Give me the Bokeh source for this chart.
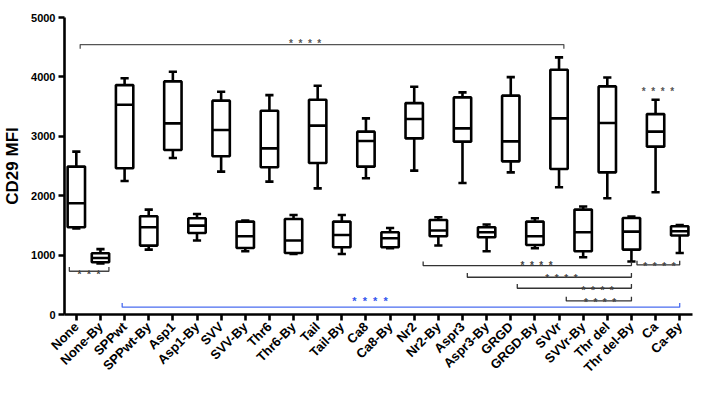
import math
from bokeh.plotting import figure
from bokeh.models import Range1d, FixedTicker
from bokeh.core.properties import value
from bokeh.embed import file_html
from bokeh.resources import INLINE

categories = ["None", "None-By", "SPPwt", "SPPwt-By", "Asp1", "Asp1-By", "SVV", "SVV-By",
              "Thr6", "Thr6-By", "Tail", "Tail-By", "Ca8", "Ca8-By", "Nr2", "Nr2-By",
              "Aspr3", "Aspr3-By", "GRGD", "GRGD-By", "SVVr", "SVVr-By", "Thr del",
              "Thr del-By", "Ca", "Ca-By"]
whisker_low = [1450, 860, 2247, 1093, 2634, 1245, 2405, 1065, 2237, 1019, 2124, 1019, 2293,
               1115, 2422, 1161, 2214, 1065, 2393, 1115, 2141, 964, 1956, 891, 2057, 1036]
q1 = [1468, 880, 2461, 1160, 2769, 1372, 2663, 1120, 2478, 1036, 2550, 1132, 2489,
      1132, 2965, 1317, 2910, 1300, 2578, 1171, 2449, 1065, 2393, 1093, 2826, 1329]
median = [1872, 950, 3532, 1468, 3218, 1497, 3105, 1317, 2797, 1245, 3179, 1339, 2920,
          1283, 3290, 1413, 3134, 1384, 2915, 1317, 3302, 1384, 3223, 1396, 3078, 1401]
q3 = [2490, 1030, 3862, 1653, 3924, 1620, 3600, 1564, 3431, 1608, 3616, 1564, 3078,
      1384, 3559, 1591, 3655, 1468, 3684, 1564, 4121, 1766, 3840, 1625, 3374, 1485]
whisker_high = [2742, 1100, 3977, 1766, 4087, 1692, 3751, 1581, 3694, 1675, 3852, 1675, 3302,
                1457, 3835, 1637, 3739, 1514, 3997, 1620, 4328, 1817, 3991, 1648, 3616, 1507]
y_ticks = [0, 1000, 2000, 3000, 4000, 5000]

# significance brackets: start, end (category units), level, tick direction
bracket_x0 = [0.16, -0.29, 1.9, 14.37, 16.2, 18.27, 20.3, 23.23]
bracket_x1 = [20.2, 1.35, 25.0, 23.0, 23.0, 23.0, 23.0, 25.0]
bracket_y = [4545, 728, 123, 824, 627, 442, 229, 834]
bracket_dir = [-1, 1, 1, 1, 1, 1, 1, 1]
bracket_color = ["#555555", "#444444", "#4a6cf0", "#333333", "#333333", "#333333", "#333333", "#333333"]

NB = "\u00a0"
S4 = (NB * 2).join(["*"] * 4)
S3 = (NB * 2).join(["*"] * 3)
star_x = [9.48, 0.52, 12.17, 19.07, 20.1, 21.6, 21.7, 24.16, 24.1]
star_y = [4560, 670, 224, 821, 614, 412, 210, 804, 3756]
star_text = [S4, S3, S4, S4, S4, S4, S4, S4, S4]
star_color = ["#555555", "#444444", "#3355ee", "#444444", "#444444", "#444444", "#444444",
              "#444444", "#555555"]
star_size = ["10px", "10px", "11px", "10px", "10px", "10px", "10px", "10px", "10px"]

FONT = "Liberation Sans"

p = figure(width=704, height=383, output_backend="svg", toolbar_location=None,
           x_range=Range1d(-0.49, 25.53), y_range=Range1d(0, 5000),
           min_border_left=58, min_border_right=12, min_border_top=17, min_border_bottom=69)
p.outline_line_color = None
p.xgrid.grid_line_color = None
p.ygrid.grid_line_color = None

xs = list(range(len(categories)))
bw = 0.72
cw = 0.17
lw = 2.6

# whiskers
p.segment(x0=xs, y0=q3, x1=xs, y1=whisker_high, line_color="black", line_width=lw)
p.segment(x0=xs, y0=q1, x1=xs, y1=whisker_low, line_color="black", line_width=lw)
p.segment(x0=[x - cw for x in xs], y0=whisker_high, x1=[x + cw for x in xs], y1=whisker_high,
          line_color="black", line_width=lw)
p.segment(x0=[x - cw for x in xs], y0=whisker_low, x1=[x + cw for x in xs], y1=whisker_low,
          line_color="black", line_width=lw)
# boxes
p.vbar(x=xs, width=bw, bottom=q1, top=q3, fill_color="white", line_color="black", line_width=lw)
p.segment(x0=[x - bw / 2 for x in xs], y0=median, x1=[x + bw / 2 for x in xs], y1=median,
          line_color="black", line_width=lw)

# brackets
tick = 70
bxs, bys = [], []
for x0, x1, y, d in zip(bracket_x0, bracket_x1, bracket_y, bracket_dir):
    bxs.append([x0, x0, x1, x1])
    bys.append([y + d * tick, y, y, y + d * tick])
p.multi_line(xs=bxs, ys=bys, line_color=bracket_color, line_width=1.3)

p.text(x=star_x, y=star_y, text=star_text, text_color=star_color, text_font_size=star_size,
       text_align="center", text_baseline="alphabetic", text_font=value(FONT),
       text_font_style="bold")

# axes
for ax in (p.xaxis[0], p.yaxis[0]):
    ax.axis_line_width = 2.6
    ax.major_tick_line_width = 2.6
    ax.major_tick_in = 0
    ax.major_tick_out = 6
    ax.minor_tick_line_color = None
    ax.major_label_text_font = FONT
    ax.major_label_text_font_style = "bold"
    ax.major_label_text_color = "black"
    ax.axis_line_color = "black"
    ax.major_tick_line_color = "black"

p.yaxis.ticker = FixedTicker(ticks=y_ticks)
p.yaxis.major_label_text_font_size = "11px"
p.yaxis.major_label_standoff = 3
p.yaxis.axis_label = "CD29 MFI"
p.yaxis.axis_label_text_font = FONT
p.yaxis.axis_label_text_font_style = "bold"
p.yaxis.axis_label_text_font_size = "17px"
p.yaxis.axis_label_text_color = "black"
p.yaxis.axis_label_standoff = 6

p.xaxis.ticker = FixedTicker(ticks=xs)
p.xaxis.major_label_overrides = {i: c for i, c in enumerate(categories)}
p.xaxis.major_label_orientation = math.pi / 4
p.xaxis.major_label_text_font_size = "13px"
p.xaxis.major_label_standoff = 4

open("out.html", "w").write(file_html(p, INLINE))
